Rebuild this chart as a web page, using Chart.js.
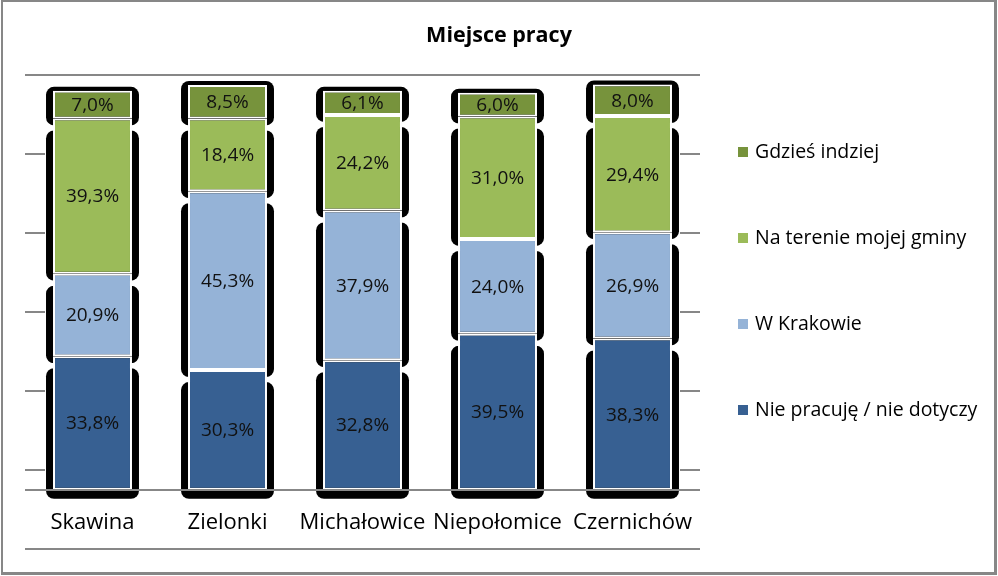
<!DOCTYPE html>
<html><head><meta charset="utf-8">
<script src="https://cdn.jsdelivr.net/npm/chart.js@4"></script>
<style>
html,body{margin:0;padding:0;background:#fff;}
#wrap{position:relative;width:998px;height:576px;overflow:hidden;background:#fff;}
#frame{position:absolute;left:1px;top:0;width:996px;height:575px;box-sizing:border-box;border-style:solid;border-color:#878787;border-width:2px 3px 3px 2px;pointer-events:none;}
#c{position:absolute;left:0;top:0;}
#title{position:absolute;left:0;top:19px;width:998px;text-align:center;font:bold 21.5px "Open Sans", sans-serif;color:#000;line-height:30px;}
.lg{position:absolute;left:738px;font:19.5px "Open Sans", sans-serif;color:#000;white-space:nowrap;line-height:26px;height:26px;}
.lg i{position:absolute;left:0;top:8px;width:10px;height:10px;}
.lg span{position:absolute;left:17px;top:-1px;}
</style></head>
<body>
<div id="wrap">
<canvas id="c" width="998" height="576"></canvas>
<div id="title">Miejsce pracy</div>
<div id="legend"></div>
<div id="frame"></div>
</div>
<script>
const categories = ['Skawina','Zielonki','Michałowice','Niepołomice','Czernichów'];
const seriesNames = ['Nie pracuję / nie dotyczy','W Krakowie','Na terenie mojej gminy','Gdzieś indziej'];
const niePracuje = [33.8,30.3,32.8,39.5,38.3];
const wKrakowie = [20.9,45.3,37.9,24.0,26.9];
const naTerenie = [39.3,18.4,24.2,31.0,29.4];
const gdziesIndziej = [7.0,8.5,6.1,6.0,8.0];
const yTicks = [-15,5,25,45,65,85,105];

const seriesValues = [niePracuje,wKrakowie,naTerenie,gdziesIndziej];
const colors = ['#376092','#95B3D7','#9BBB59','#77933C'];
const GRID = '#878787';
const FONT = '"Open Sans", sans-serif';

const datasets = seriesNames.map((n,i)=>({
  label:n, data:seriesValues[i], backgroundColor:colors[i],
  borderColor:'#ffffff', borderWidth:2, borderSkipped:false,
  barPercentage:0.585, categoryPercentage:1
}));

const legendY = [152,238,324,410];
const lgEl = document.getElementById('legend');
seriesNames.slice().reverse().forEach((n,k)=>{
  const idx = seriesNames.length-1-k;
  const d = document.createElement('div');
  d.className='lg'; d.style.top=(legendY[k]-13)+'px';
  d.innerHTML='<i style="background:'+colors[idx]+'"></i><span></span>';
  d.querySelector('span').textContent=n;
  lgEl.appendChild(d);
});

const shadowPlugin = {
  id:'shadows',
  beforeDatasetsDraw(chart){
    const ctx=chart.ctx, n=chart.data.datasets.length;
    const area=chart.chartArea, ys=chart.scales.y;
    ctx.save();
    ctx.strokeStyle=GRID; ctx.lineWidth=2;
    yTicks.forEach(v=>{
      if(v===yTicks[0]||v===yTicks[yTicks.length-1]) return;
      const py=Math.round(ys.getPixelForValue(v));
      ctx.beginPath();
      ctx.moveTo(area.left,py); ctx.lineTo(area.left+20,py);
      ctx.moveTo(area.right-20,py); ctx.lineTo(area.right,py);
      ctx.stroke();
    });
    ctx.fillStyle='#000';
    for(let d=0; d<n; d++){
      const meta=chart.getDatasetMeta(d);
      meta.data.forEach(el=>{
        const p=el.getProps(['x','y','base','width'],true);
        const left=p.x-p.width/2-7, right=p.x+p.width/2+7;
        const top = d===n-1 ? p.y-4 : p.y+12;
        const bottom = d===0 ? p.base+9 : p.base+7;
        ctx.beginPath(); ctx.roundRect(left, top, right-left, bottom-top, 8); ctx.fill();
      });
    }
    ctx.restore();
  },
  afterDatasetsDraw(chart){
    const ctx=chart.ctx, area=chart.chartArea, ys=chart.scales.y, xs=chart.scales.x;
    ctx.save();
    const y0=Math.round(ys.getPixelForValue(0));
    ctx.strokeStyle=GRID; ctx.lineWidth=2;
    ctx.beginPath(); ctx.moveTo(area.left,y0); ctx.lineTo(area.right,y0); ctx.stroke();
    ctx.font='19px '+FONT; ctx.fillStyle='#111'; ctx.textAlign='center'; ctx.textBaseline='middle';
    chart.data.datasets.forEach((ds,d)=>{
      chart.getDatasetMeta(d).data.forEach((el,i)=>{
        const p=el.getProps(['x','y','base'],true);
        ctx.fillText(ds.data[i].toFixed(1).replace('.',',')+'%', p.x, (p.y+p.base)/2+1);
      });
    });
    ctx.font='22px '+FONT; ctx.fillStyle='#000';
    categories.forEach((c,i)=>{
      ctx.fillText(c, xs.getPixelForValue(i), y0+33);
    });
    ctx.restore();
  }
};

new Chart(document.getElementById('c'),{
  type:'bar',
  data:{labels:categories, datasets:datasets},
  options:{
    responsive:false, animation:false, devicePixelRatio:1,
    layout:{padding:{left:25,right:298,top:75,bottom:27}},
    plugins:{legend:{display:false},title:{display:false},tooltip:{enabled:false}},
    scales:{
      x:{stacked:true, display:false},
      y:{stacked:true, min:-15, max:105,
        afterBuildTicks:(s)=>{ s.ticks=yTicks.map(v=>({value:v})); },
        ticks:{display:false},
        border:{display:false},
        grid:{drawTicks:false, lineWidth:2,
          color:(c)=> (c.tick && (c.tick.value===yTicks[0]||c.tick.value===yTicks[yTicks.length-1])) ? GRID : 'rgba(0,0,0,0)'}
      }
    }
  },
  plugins:[shadowPlugin]
});
</script>
</body></html>
